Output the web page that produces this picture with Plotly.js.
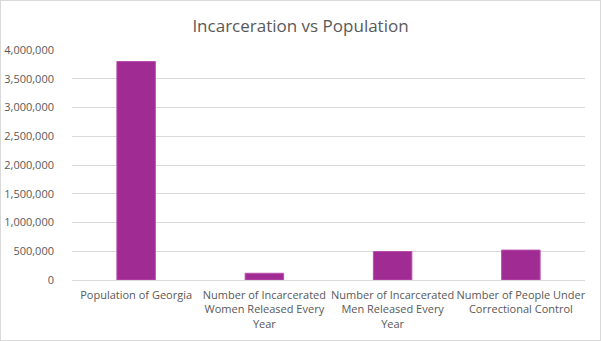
<!DOCTYPE html>
<html>
<head>
<meta charset="utf-8">
<script src="https://cdn.plot.ly/plotly-3.0.1.min.js"></script>
<style>
html,body{margin:0;padding:0;background:#fff;}
#wrap{width:601px;height:341px;box-sizing:border-box;border:1px solid #d9d9d9;overflow:hidden;}
#chart{width:599px;height:339px;}
</style>
</head>
<body>
<div id="wrap"><div id="chart"></div></div>
<script>
const categories = [
  "Population of Georgia",
  "Number of Incarcerated<br>Women Released Every<br>Year",
  "Number of Incarcerated<br>Men Released Every<br>Year",
  "Number of People Under<br>Correctional Control"
];
const values = [3800000, 117000, 495000, 520000];
const yTicks = [0, 500000, 1000000, 1500000, 2000000, 2500000, 3000000, 3500000, 4000000];
const yTickLabels = ["0", "500,000", "1,000,000", "1,500,000", "2,000,000", "2,500,000", "3,000,000", "3,500,000", "4,000,000"];

const font = "Open Sans, Lato, sans-serif";
Plotly.newPlot("chart", [{
  type: "bar",
  x: categories,
  y: values,
  marker: {color: "#A02B93", line: {color: "#B94FAE", width: 1}},
  width: 0.3,
  hoverinfo: "skip"
}], {
  width: 599, height: 339,
  margin: {l: 71, r: 15, t: 49, b: 60},
  paper_bgcolor: "#fff", plot_bgcolor: "#fff",
  title: {text: "Incarceration vs Population", x: 0.5, xanchor: "center", y: 0.925, yanchor: "middle",
          font: {family: font, size: 17, color: "#595959"}},
  xaxis: {showline: false, showgrid: false, ticks: "", tickangle: 0, ticklabelstandoff: 7,
          tickfont: {family: font, size: 11, color: "#595959"}},
  yaxis: {range: [0, 4000000], tickvals: yTicks, ticktext: yTickLabels, showline: false,
          gridcolor: "#d9d9d9", gridwidth: 1, zeroline: true, zerolinecolor: "#d9d9d9", zerolinewidth: 1,
          ticks: "", ticklabelstandoff: 17,
          tickfont: {family: font, size: 11, color: "#595959"}},
  showlegend: false
}, {displayModeBar: false, staticPlot: true});
</script>
</body>
</html>
